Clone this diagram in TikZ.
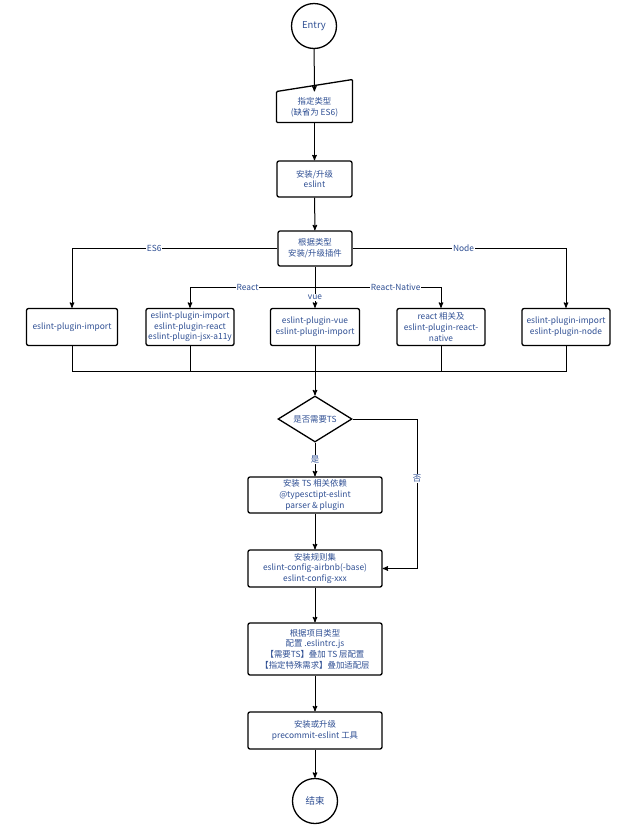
\documentclass[tikz,border=0pt]{standalone}
\usepackage{fontspec}
\setmainfont{Noto Sans CJK SC}
\usepackage{tikz}
\usetikzlibrary{shapes.geometric}
\usetikzlibrary{arrows}
\usepackage{xcolor}
\definecolor{textblue}{HTML}{2F4F93}

\begin{document}
\begin{tikzpicture}[x=1pt,y=-1pt,line width=1pt,>=stealth',
  font=\fontsize{8.4}{10.6}\selectfont,
  box/.style={draw,rounded corners=2pt,line width=1.3pt,text=textblue,align=center,inner sep=1pt,minimum height=36pt},
  term/.style={draw,circle,line width=1.3pt,text=textblue,minimum size=45pt,inner sep=0pt},
  lbl/.style={fill=white,text=textblue,inner sep=1pt}]
\useasboundingbox (0,0) rectangle (640,828);

\node [term] (entry) at (314,26) {\fontsize{9.5}{11}\selectfont Entry};
\node [text=textblue,align=center,minimum width=75pt,minimum height=30pt,inner sep=0pt] (type) at (314.5,107) {指定类型\\(缺省为 ES6)};
\draw [line width=1.3pt,rounded corners=1pt] (type.south west) -- (type.south east) -- ([yshift=12pt]type.north east) -- (type.north west) -- cycle;
\node [box,minimum width=75pt] (eslint) at (314.5,179) {安装/升级\\eslint};
\node [box,minimum width=74pt,minimum height=35pt] (plugins) at (315,248.5) {根据类型\\安装/升级插件};

% plugin boxes
\node [box,minimum width=91pt,minimum height=37pt] (es6) at (72,327) {eslint-plugin-import};
\node [box,minimum width=88pt,minimum height=37pt] (react) at (190,327) {eslint-plugin-import\\eslint-plugin-react\\eslint-plugin-jsx-a11y};
\node [box,minimum width=89pt,minimum height=37pt] (vue) at (315,327) {eslint-plugin-vue\\eslint-plugin-import};
\node [box,minimum width=88pt,minimum height=37pt] (native) at (441,327) {react 相关及\\eslint-plugin-react-\\native};
\node [box,minimum width=88pt,minimum height=37pt] (node) at (566,327) {eslint-plugin-import\\eslint-plugin-node};

\coordinate (split) at (315,287);
\coordinate (merge) at (315,371);

\node [draw,diamond,line width=1.3pt,aspect=1.6,minimum width=74pt,minimum height=46pt,inner sep=0pt,text=textblue] (needts) at (315,419) {是否需要TS};
\node [box,minimum width=134pt] (tsdeps) at (315,495) {安装 TS 相关依赖\\@typesctipt-eslint\\parser \& plugin};
\node [box,minimum width=134pt,minimum height=37pt] (rules) at (315,568.5) {安装规则集\\eslint-config-airbnb(-base)\\eslint-config-xxx};
\node [box,minimum width=134pt,minimum height=52pt] (config) at (315,649) {根据项目类型\\配置 .eslintrc.js\\【需要TS】叠加 TS 层配置\\【指定特殊需求】叠加适配层};
\node [box,minimum width=134pt,minimum height=37pt] (precommit) at (315,730.5) {安装或升级\\precommit-eslint 工具};
\node [term] (finish) at (315,801) {\fontsize{9.5}{11}\selectfont 结束};
\coordinate (skip) at (417,419);

\draw [->] (entry) -- (type);
\draw [->] (type) -- (eslint);
\draw [->] (eslint) -- (plugins);
\draw [->] (plugins.west) -| node [lbl,pos=0.3] {ES6} (es6.north);
\draw [->] (plugins.east) -| node [lbl,pos=0.26] {Node} (node.north);
\draw (plugins) -- (split);
\draw [->] (split) -| node [lbl,pos=0.27] {React} (react.north);
\draw [->] (split) -| node [lbl,pos=0.32] {React-Native} (native.north);
\draw [->] (split) -- node [lbl] {vue} (vue);

\draw (es6.south) |- (merge) -| (node.south);
\draw (react.south) |- (merge);
\draw (native.south) |- (merge);
\draw (vue) -- (merge);
\draw [->] (merge) -- (needts);

\draw [->] (needts) -- node [lbl] {是} (tsdeps);
\draw [->] (needts.east) -- (skip) |- node [lbl,pos=0.2] {否} (rules.east);
\draw [->] (tsdeps) -- (rules);
\draw [->] (rules) -- (config);
\draw [->] (config) -- (precommit);
\draw [->] (precommit) -- (finish);
\end{tikzpicture}
\end{document}
